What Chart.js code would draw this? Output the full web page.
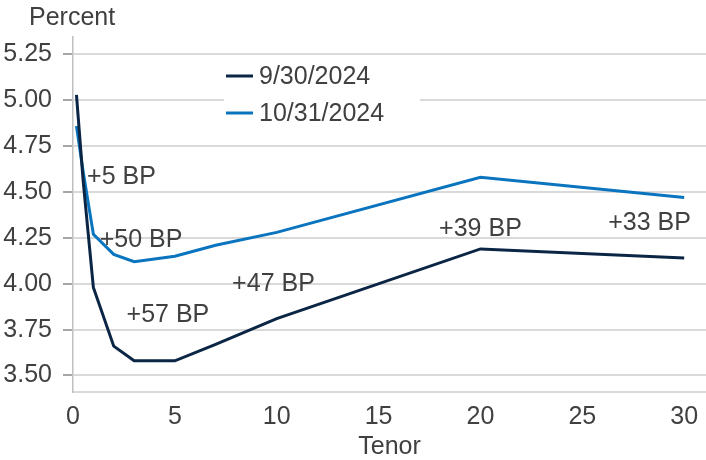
<!DOCTYPE html>
<html>
<head>
<meta charset="utf-8">
<script src="https://cdn.jsdelivr.net/npm/chart.js@4.4.1/dist/chart.umd.min.js"></script>
<style>
	html, body { margin: 0; padding: 0; background: #fff; }
	#wrap { width: 706px; height: 460px; }
</style>
</head>
<body>
<div id="wrap"><canvas id="yieldChart"></canvas></div>
<script>
// tenor in years
const tenors = [0.17, 0.5, 1, 2, 3, 5, 7, 10, 20, 30];
const sept30 = [5.03, 4.56, 3.98, 3.66, 3.58, 3.58, 3.67, 3.81, 4.19, 4.14];
const oct31 = [4.86, 4.61, 4.27, 4.16, 4.12, 4.15, 4.21, 4.28, 4.58, 4.47];
const seriesNames = ['9/30/2024', '10/31/2024'];

// change labels, anchored in data units (tenor, percent)
const bpText = ['+5 BP', '+50 BP', '+57 BP', '+47 BP', '+39 BP', '+33 BP'];
const bpTenor = [2.38, 3.34, 4.66, 9.84, 20.0, 28.3];
const bpLevel = [4.58, 4.24, 3.83, 4.00, 4.30, 4.33];

const darkBlue = '#0b2545';
const lightBlue = '#0a74bf';
const textColor = '#404040';
const gridColor = '#d9d9d9';
const font = '"Liberation Sans", Arial, sans-serif';

const overlay = {
	id: 'overlay',
	afterDraw(chart) {
		const { ctx, scales: { x, y } } = chart;
		ctx.save();
		ctx.font = `25px ${font}`;
		ctx.textBaseline = 'middle';
		ctx.fillStyle = textColor;
		ctx.textAlign = 'left';
		ctx.fillText('Percent', 29, 18);

		// legend box
		ctx.fillStyle = '#fff';
		ctx.fillRect(224, 58, 196, 74);
		const colors = [darkBlue, lightBlue];
		const rowY = [76, 113];
		seriesNames.forEach((name, i) => {
			ctx.strokeStyle = colors[i];
			ctx.lineWidth = 3;
			ctx.beginPath();
			ctx.moveTo(226, rowY[i]);
			ctx.lineTo(253, rowY[i]);
			ctx.stroke();
			ctx.fillStyle = textColor;
			ctx.fillText(name, 259, rowY[i] + 1);
		});

		ctx.textAlign = 'center';
		bpText.forEach((t, i) => {
			ctx.fillText(t, x.getPixelForValue(bpTenor[i]), y.getPixelForValue(bpLevel[i]));
		});
		ctx.restore();
	}
};

const toPoints = vals => tenors.map((t, i) => ({ x: t, y: vals[i] }));

new Chart(document.getElementById('yieldChart'), {
	type: 'line',
	data: {
		datasets: [{
			label: seriesNames[0],
			data: toPoints(sept30),
			borderColor: darkBlue,
			borderWidth: 3,
			pointRadius: 0,
			tension: 0
		}, {
			label: seriesNames[1],
			data: toPoints(oct31),
			borderColor: lightBlue,
			borderWidth: 3,
			pointRadius: 0,
			tension: 0
		}]
	},
	options: {
		responsive: true,
		maintainAspectRatio: false,
		devicePixelRatio: 1,
		animation: false,
		layout: { padding: { top: 37, right: 0, left: 0, bottom: 0 } },
		plugins: { legend: { display: false }, tooltip: { enabled: false } },
		scales: {
			x: {
				type: 'linear',
				min: 0,
				max: 31.07,
				grid: { display: false },
				border: { display: true, color: gridColor, width: 2 },
				ticks: { stepSize: 5, includeBounds: false, padding: 2, color: textColor, font: { family: font, size: 25 } },
				title: { display: true, text: 'Tenor', color: textColor, font: { family: font, size: 25, lineHeight: 1 }, padding: 0 },
				afterFit(scale) { scale.height = 68; }
			},
			y: {
				min: 3.41,
				max: 5.345,
				grid: { color: gridColor, lineWidth: 2, tickLength: 10, tickColor: '#a6a6a6' },
				border: { display: true, color: '#bfbfbf', width: 1.5 },
				ticks: {
					stepSize: 0.25,
					includeBounds: false,
					padding: 11,
					color: textColor,
					font: { family: font, size: 25 },
					callback: v => v.toFixed(2)
				},
				afterFit(scale) { scale.width = 73; }
			}
		}
	},
	plugins: [overlay]
});
</script>
</body>
</html>
